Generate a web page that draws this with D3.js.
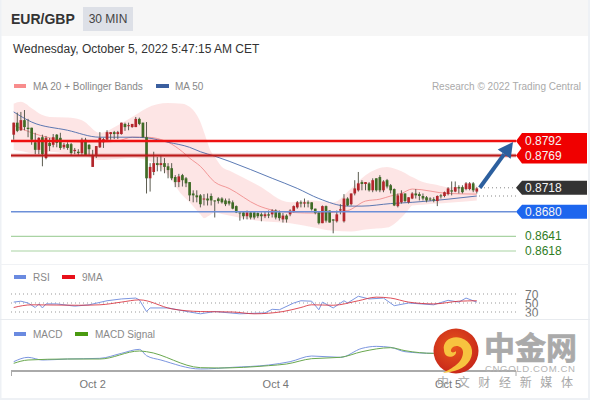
<!DOCTYPE html>
<html><head><meta charset="utf-8">
<script src="https://cdn.jsdelivr.net/npm/d3@7"></script>
<style>html,body{margin:0;padding:0;background:#fff}svg{display:block}text{font-family:"Liberation Sans",Arial,sans-serif}</style>
</head><body><svg id="c" width="590" height="400"></svg>
<script>
const opens=[.8802,.8821,.8809,.8825,.8813,.8813,.8790,.8778,.8798,.8765,
.8789,.8786,.8802,.8797,.8782,.8787,.8787,.8776,.8775,.8773,
.8794,.8786,.8751,.8770,.8782,.8790,.8794,.8803,.8806,.8803,
.8803,.8819,.8816,.8814,.8814,.8827,.8821,.8798,.8733,.8743,
.8757,.8754,.8757,.8752,.8749,.8735,.8727,.8738,.8733,.8727,
.8709,.8706,.8706,.8700,.8701,.8705,.8698,.8701,.8701,.8698,
.8697,.8695,.8689,.8679,.8679,.8673,.8679,.8679,.8678,.8676,
.8673,.8676,.8676,.8682,.8679,.8668,.8674,.8676,.8681,.8687,
.8695,.8693,.8695,.8695,.8685,.8679,.8662,.8689,.8682,.8668,
.8665,.8682,.8665,.8701,.8692,.8709,.8714,.8727,.8724,.8725,
.8714,.8733,.8735,.8714,.8730,.8722,.8716,.8689,.8695,.8709,
.8695,.8701,.8709,.8708,.8705,.8703,.8701,.8700,.8697,.8706,
.8705,.8708,.8714,.8712,.8719,.8719,.8716,.8716,.8725,.8712];
const highs=[.8821,.8837,.8838,.8841,.8827,.8813,.8805,.8798,.8802,.8800,
.8797,.8803,.8803,.8805,.8789,.8790,.8789,.8781,.8779,.8797,
.8797,.8787,.8778,.8784,.8806,.8797,.8809,.8806,.8808,.8808,
.8821,.8821,.8821,.8819,.8830,.8829,.8821,.8822,.8757,.8775,
.8767,.8770,.8765,.8757,.8757,.8738,.8740,.8740,.8735,.8727,
.8714,.8714,.8708,.8708,.8709,.8709,.8698,.8703,.8703,.8701,
.8701,.8698,.8690,.8679,.8681,.8682,.8681,.8681,.8679,.8679,
.8681,.8682,.8684,.8684,.8682,.8678,.8676,.8684,.8690,.8697,
.8698,.8701,.8698,.8695,.8685,.8679,.8690,.8690,.8682,.8668,
.8682,.8692,.8708,.8703,.8709,.8730,.8743,.8730,.8727,.8727,
.8733,.8733,.8738,.8730,.8732,.8724,.8717,.8709,.8714,.8709,
.8703,.8711,.8716,.8711,.8709,.8705,.8703,.8703,.8706,.8708,
.8712,.8719,.8728,.8728,.8722,.8722,.8727,.8727,.8727,.8719];
const lows=[.8794,.8806,.8808,.8809,.8798,.8786,.8771,.8771,.8752,.8763,
.8776,.8782,.8782,.8778,.8779,.8778,.8770,.8771,.8770,.8770,
.8770,.8770,.8751,.8765,.8781,.8781,.8794,.8794,.8795,.8795,
.8802,.8808,.8809,.8813,.8814,.8817,.8797,.8709,.8712,.8738,
.8744,.8744,.8741,.8733,.8730,.8719,.8719,.8720,.8719,.8697,
.8695,.8695,.8687,.8690,.8690,.8690,.8671,.8693,.8693,.8689,
.8690,.8684,.8678,.8666,.8668,.8668,.8668,.8668,.8670,.8665,
.8670,.8670,.8671,.8668,.8666,.8663,.8663,.8673,.8679,.8685,
.8687,.8687,.8687,.8682,.8676,.8660,.8662,.8663,.8663,.8646,
.8663,.8676,.8663,.8689,.8690,.8706,.8712,.8714,.8714,.8712,
.8711,.8712,.8711,.8711,.8717,.8709,.8689,.8687,.8693,.8695,
.8693,.8700,.8701,.8698,.8698,.8695,.8697,.8695,.8689,.8701,
.8703,.8706,.8706,.8711,.8709,.8709,.8714,.8714,.8711,.8709];
const closes=[.8821,.8808,.8825,.8814,.8811,.8794,.8778,.8797,.8771,.8797,
.8784,.8798,.8789,.8781,.8786,.8781,.8773,.8778,.8773,.8794,
.8770,.8779,.8770,.8784,.8797,.8795,.8806,.8806,.8803,.8806,
.8821,.8814,.8817,.8819,.8827,.8819,.8798,.8733,.8751,.8757,
.8754,.8757,.8751,.8746,.8733,.8727,.8736,.8730,.8725,.8706,
.8706,.8703,.8692,.8701,.8698,.8698,.8697,.8697,.8695,.8692,
.8693,.8685,.8679,.8678,.8673,.8679,.8671,.8671,.8673,.8673,
.8676,.8674,.8682,.8671,.8670,.8674,.8668,.8682,.8689,.8695,
.8693,.8695,.8693,.8684,.8678,.8662,.8689,.8666,.8663,.8666,
.8676,.8684,.8701,.8690,.8709,.8717,.8725,.8724,.8727,.8714,
.8730,.8714,.8714,.8728,.8720,.8714,.8690,.8706,.8709,.8697,
.8703,.8709,.8706,.8705,.8701,.8698,.8700,.8698,.8705,.8705,
.8711,.8717,.8712,.8719,.8717,.8711,.8725,.8725,.8714,.8717];

const upperBars=[0,2,5,8,10,15,19,24,29,33,37,43,47,49,51,52,55,58,68,77,83,89,94,98,104,108,110,114,121,129];
const upperBand=[.8851,.8854,.8844,.8833,.8830,.8829,.8825,.8805,.8817,.8830,.8844,.8852,.8851,.8846,.8833,.8822,.8775,.8751,.8722,.8695,.8698,.8695,.8717,.8738,.8751,.8744,.8738,.8727,.8719,.8722];
const lowerBars=[0,5,10,19,24,33,37,43,47,49,51,53,56,60,68,77,89,94,98,104,108,111,118,129];
const lowerBand=[.8778,.8773,.8775,.8770,.8762,.8765,.8762,.8738,.8706,.8695,.8682,.8670,.8679,.8674,.8666,.8662,.8650,.8649,.8652,.8655,.8671,.8690,.8693,.8698];
const ma20Bars=[0,5,10,19,24,29,33,37,43,47,49,52,56,60,68,77,85,93,98,102,105,108,111,121,129];
const ma20=[.8817,.8805,.8797,.8790,.8790,.8792,.8798,.8798,.8790,.8775,.8765,.8752,.8727,.8717,.8690,.8679,.8678,.8682,.8697,.8700,.8705,.8709,.8716,.8709,.8708];
const ma50Bars=[0,5,15,24,33,37,43,49,52,56,60,72,79,85,93,97,105,111,121,129];
const ma50=[.8838,.8822,.8809,.8798,.8798,.8797,.8790,.8782,.8775,.8768,.8760,.8733,.8717,.8701,.8689,.8689,.8693,.8695,.8700,.8705];

const rsiBars=[0,2,4,6,7,8,9,12,17,21,26,30,34,35,37,38,43,49,52,56,63,70,72,74,78,80,83,85,86,89,92,93,96,99,103,106,110,117,121,124,126,129];
const rsi=[52,54,50,40,48,39,48,48,43,46,55,59,61,57,31,39,39,30,26,31,26,28,36,35,50,55,54,35,52,39,55,50,65,59,61,44,50,46,56,52,61,52];
const rsiMaBars=[0,5,18,24,30,35,44,52,61,67,75,80,83,89,96,101,105,110,117,124,129];
const rsiMa=[40,46,45,46,52,57,37,31,30,26,31,40,46,45,55,63,61,52,48,54,55];
const rsiLevels=[70,50,30];

const macdBars=[0,4,8,15,24,30,35,37,41,52,61,71,77,83,91,97,101,105,109,117,129];
const macd=[10,23,15,18,20,35,47,28,15,-12,-7,0,10,27,23,50,56,53,40,35,42];
const signalBars=[0,4,15,24,35,37,52,57,71,76,83,91,97,105,109,117,129];
const signal=[5,15,18,18,42,40,-8,-9,-2,3,19,23,40,52,43,35,40];

const levelValues=[.8792,.8769,.8680];
const levelLabels=["0.8792","0.8769","0.8680"];
const levelColors=["#ee1111","#bb1a1a","#6c8fd8"];
const tagColors=["#f00000","#f00000","#1d66ee"];
const supportValues=[.8641,.8618];
const supportLabels=["0.8641","0.8618"];
const lastPrice=.8718;
const tickBars=[22,73,121];
const tickLabels=["Oct 2","Oct 4","Oct 5"];

const svg=d3.select("#c");
const x=d3.scaleLinear().domain([0,129]).range([13.7,476.8]);
const y=d3.scaleLinear().domain([.8618,.8792]).range([251,141]);
const yRsi=d3.scaleLinear().domain([30,70]).range([312,294]);
const yMacd=d3.scaleLinear().domain([0,100]).range([365,331.7]);
const txt=(s,px,py,size,fill,extra={})=>{const t=svg.append("text").attr("x",px).attr("y",py).attr("font-size",size).attr("fill",fill).text(s);for(const k in extra)t.attr(k,extra[k]);return t;};

// frame
svg.append("rect").attr("width",590).attr("height",400).attr("fill","#fff");
svg.append("rect").attr("width",590).attr("height",36).attr("fill","#f6f6f6");
svg.append("rect").attr("x",0).attr("y",0).attr("width",1.5).attr("height",400).attr("fill","#eef1f5");
svg.append("rect").attr("x",588).attr("y",0).attr("width",2).attr("height",400).attr("fill","#eef1f5");
svg.append("rect").attr("x",0).attr("y",398).attr("width",590).attr("height",2).attr("fill","#eef1f5");
svg.append("rect").attr("x",0).attr("y",264).attr("width",590).attr("height",1).attr("fill","#f0f2f5");
svg.append("rect").attr("x",0).attr("y",319).attr("width",590).attr("height",1).attr("fill","#e8ebef");

// header
txt("EUR/GBP",11,24,14,"#333",{"font-weight":"bold"});
svg.append("rect").attr("x",83).attr("y",7).attr("width",50).attr("height",24).attr("fill","#dde0e7");
txt("30 MIN",108,23,12,"#444",{"text-anchor":"middle"});
txt("Wednesday, October 5, 2022 5:47:15 AM CET",13,53,12,"#333");

// legends
const swatch=(a,b,yy,c)=>svg.append("rect").attr("x",a).attr("y",yy-2).attr("width",b-a).attr("height",4).attr("fill",c);
swatch(14,26,86,"#f88c8c");txt("MA 20 + Bollinger Bands",33,90,10,"#888");
swatch(156,169,86,"#3b5f9f");txt("MA 50",175,90,10,"#888");
txt("Research © 2022 Trading Central",581,90,10,"#aaa",{"text-anchor":"end"});
swatch(14,26,277,"#6a8ae0");txt("RSI",33,281,10,"#888");
swatch(62,75,277,"#e8101a");txt("9MA",82,281,10,"#888");
swatch(14,26,334,"#6a8ae0");txt("MACD",33,338,10,"#888");
swatch(75,88,334,"#4a9a10");txt("MACD Signal",95,338,10,"#888");

// band: joined on a shared bar set
const fillBars=[...new Set([...upperBars,...lowerBars])].sort((a,b)=>a-b);
const upAt=d3.scaleLinear().domain(upperBars).range(upperBand);
const loAt=d3.scaleLinear().domain(lowerBars).range(lowerBand);
svg.append("path").datum(fillBars).attr("fill","#fbcfcf").attr("opacity",.55)
 .attr("d",d3.area().x(d=>x(d)).y0(d=>y(loAt(d))).y1(d=>y(upAt(d))).curve(d3.curveMonotoneX));

const pl=(bars,vals,sc,stroke,w,op=1)=>svg.append("path").attr("fill","none").attr("stroke",stroke).attr("stroke-width",w).attr("opacity",op)
 .attr("d",d3.line().x((d,i)=>x(bars[i])).y(d=>sc(d)).curve(d3.curveMonotoneX)(vals));
pl(ma20Bars,ma20,y,"#f08a8a",1,.85);
pl(ma50Bars,ma50,y,"#3f64a8",1,.85);

// candles
const G=svg.append("g");
closes.forEach((c,i)=>{
 const o=opens[i],up=c>=o,col=up?"#b3262c":"#3f6b26",w=2.7;
 G.append("line").attr("x1",x(i)).attr("x2",x(i)).attr("y1",y(highs[i])).attr("y2",y(lows[i])).attr("stroke","#5c5c50").attr("stroke-width",1);
 const t=y(Math.max(o,c)),b=y(Math.min(o,c));
 G.append("rect").attr("x",x(i)-w/2).attr("y",t).attr("width",w).attr("height",Math.max(1,b-t)).attr("fill",col);
});

// levels
levelValues.forEach((v,i)=>{
 if(i<2) svg.append("line").attr("x1",11).attr("x2",516).attr("y1",y(v)).attr("y2",y(v)).attr("stroke",levelColors[i]).attr("stroke-opacity",.25).attr("stroke-width",4);
 svg.append("line").attr("x1",11).attr("x2",516).attr("y1",y(v)).attr("y2",y(v)).attr("stroke",levelColors[i]).attr("stroke-width",i<2?2:1.5);
});
supportValues.forEach((v,i)=>{
 svg.append("line").attr("x1",11).attr("x2",516).attr("y1",y(v)).attr("y2",y(v)).attr("stroke","#a9d3a3").attr("stroke-width",1.2);
 txt(supportLabels[i],525,y(v)+4,12,"#2f7d1f");
});
// dotted leaders
[[lastPrice,480],[ma50[ma50.length-1],479]].forEach(([v,a])=>svg.append("line").attr("x1",a).attr("x2",516).attr("y1",y(v)).attr("y2",y(v)).attr("stroke","#888").attr("stroke-dasharray","1,3"));

// tags
const tagShape=(v,c,h)=>{const m=y(v);
 svg.append("path").attr("fill",c).attr("d",`M516,${m}L522,${m-h}H587V${m+h}H522Z`);};
levelValues.forEach((v,i)=>tagShape(v,tagColors[i],i<2?8:7));
tagShape(lastPrice,"#333333",7);
levelValues.forEach((v,i)=>txt(levelLabels[i],525,y(v)+4.3,12,"#f5f5f5"));
txt(lastPrice.toFixed(4),525,y(lastPrice)+4.3,12,"#f5f5f5");

// forecast arrow
const ax0=x(129)+3,ay0=y(lastPrice),ax1=513,ay1=y(.8792)+1;
const ang=Math.atan2(ay1-ay0,ax1-ax0),hl=15,hw=8;
const bx=ax1-hl*Math.cos(ang),by=ay1-hl*Math.sin(ang);
svg.append("line").attr("x1",ax0).attr("y1",ay0).attr("x2",bx).attr("y2",by).attr("stroke","#2c5f9e").attr("stroke-width",4);
svg.append("path").attr("fill","#2c5f9e").attr("d",`M${ax1},${ay1}L${bx-hw*Math.sin(ang)},${by+hw*Math.cos(ang)}L${bx+hw*Math.sin(ang)},${by-hw*Math.cos(ang)}Z`);

// RSI
rsiLevels.forEach(v=>svg.append("line").attr("x1",11).attr("x2",516).attr("y1",yRsi(v)).attr("y2",yRsi(v)).attr("stroke","#999").attr("stroke-dasharray","1,3"));
pl(rsiBars,rsi,yRsi,"#7c96e0",1).attr("d",d3.line().x((d,i)=>x(rsiBars[i])).y(d=>yRsi(d))(rsi));
pl(rsiMaBars,rsiMa,yRsi,"#d8303c",1,.85);
const defs=svg.append("defs");
defs.append("clipPath").attr("id","c50").append("rect").attr("x",520).attr("y",296).attr("width",40).attr("height",11.5);
defs.append("clipPath").attr("id","c30").append("rect").attr("x",520).attr("y",308).attr("width",40).attr("height",8.5);
txt("70",525,yRsi(70)+4.5,12,"#777");
txt("50",525,yRsi(50)+4.5,12,"#777",{"clip-path":"url(#c50)"});
txt("30",525,yRsi(30)+4.5,12,"#777",{"clip-path":"url(#c30)"});

// MACD
pl(macdBars,macd,yMacd,"#7c96e0",1);
pl(signalBars,signal,yMacd,"#6aa84f",1);

// axis
svg.append("line").attr("x1",11).attr("x2",516).attr("y1",371).attr("y2",371).attr("stroke","#aaa").attr("stroke-width",2);
[11.5,516].forEach(v=>svg.append("line").attr("x1",v).attr("x2",v).attr("y1",371).attr("y2",376).attr("stroke","#aaa").attr("stroke-width",1));
tickBars.forEach((b,i)=>txt(tickLabels[i],x(b),388,11,"#777",{"text-anchor":"middle"}));

// watermark
const grad=defs.append("radialGradient").attr("id","lg").attr("cx","45%").attr("cy","40%").attr("r","60%");
grad.append("stop").attr("offset","0").attr("stop-color","#e8561c");
grad.append("stop").attr("offset","1").attr("stop-color","#c8281a");
svg.append("circle").attr("cx",456).attr("cy",351).attr("r",22.5).attr("fill","url(#lg)");
svg.append("path").attr("fill","#f7c33f").attr("d","M444,350C442,341 452,335 461,338C471,341 475,351 470,360C465,369 454,372 443,373C452,368 463,363 463,352C463,346 455,344 452,348C449,352 453,354 456,351C457,356 450,358 447,356C445,355 444,352 444,350Z");
const wm="#aaaaaa";
txt("中金网",484,359,31,wm,{"font-weight":"bold","stroke":wm,"stroke-width":.7,"style":"font-family:'Noto Sans CJK SC'"});
txt("CNGOLD.COM.CN",485,372,9.6,"#b4b4b4",{"textLength":90});
txt("中文财经新媒体",437,387,12,"#a8a8a8",{"style":"font-family:'Noto Sans CJK SC'","textLength":136,"lengthAdjust":"spacing"});
</script></body></html>
